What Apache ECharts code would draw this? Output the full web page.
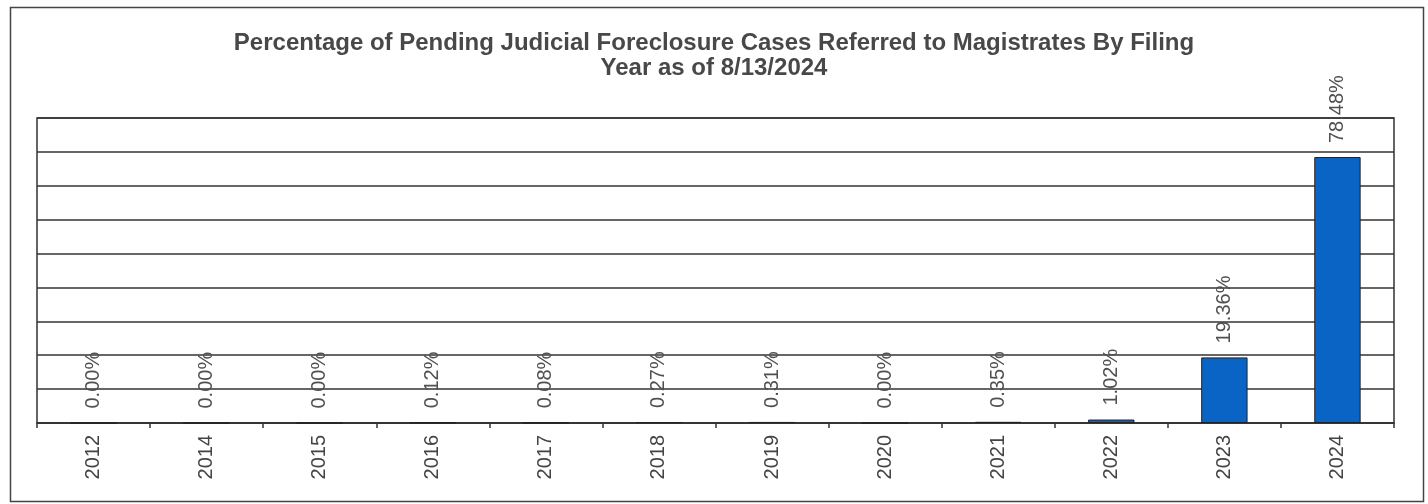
<!DOCTYPE html>
<html>
<head>
<meta charset="utf-8">
<script src="https://cdn.jsdelivr.net/npm/echarts@6/dist/echarts.min.js"></script>
<style>
  html, body { margin: 0; padding: 0; background: #fff; }
  #chart { width: 1428px; height: 504px; }
</style>
</head>
<body>
<div id="chart"></div>
<script>
// filing years on the x axis
var years = ['2012', '2014', '2015', '2016', '2017', '2018', '2019', '2020', '2021', '2022', '2023', '2024'];
// percent of pending cases referred to magistrates
var percents = [0.00, 0.00, 0.00, 0.12, 0.08, 0.27, 0.31, 0.00, 0.35, 1.02, 19.36, 78.48];

var titleText = 'Percentage of Pending Judicial Foreclosure Cases Referred to Magistrates By Filing\nYear as of 8/13/2024';

var chart = echarts.init(document.getElementById('chart'));

var option = {
  backgroundColor: '#fff',
  animation: false,
  textStyle: { fontFamily: 'Liberation Sans, Arial, sans-serif' },
  title: {
    text: titleText,
    left: 'center',
    top: 26,
    textStyle: {
      fontSize: 24,
      fontWeight: 'bold',
      color: '#484848',
      lineHeight: 25,
      align: 'center'
    }
  },
  graphic: [{
    type: 'rect',
    left: 8,
    top: 5,
    shape: { width: 1413, height: 494 },
    style: { fill: 'none', stroke: '#444', lineWidth: 1.5 },
    silent: true
  }],
  grid: {
    left: 37,
    right: 34,
    top: 118,
    bottom: 81,
    show: true,
    borderColor: '#333',
    borderWidth: 1.5
  },
  xAxis: {
    type: 'category',
    data: years,
    axisLine: { lineStyle: { color: '#333', width: 1.5 } },
    axisTick: { show: true, length: 5, lineStyle: { color: '#333', width: 1.5 } },
    axisLabel: {
      rotate: 90,
      margin: 12,
      fontSize: 20,
      color: '#444'
    }
  },
  yAxis: {
    type: 'value',
    min: 0,
    max: 90,
    interval: 10,
    axisLabel: { show: false },
    axisLine: { show: false },
    axisTick: { show: false },
    splitLine: { lineStyle: { color: '#333', width: 1.5 } }
  },
  series: [{
    type: 'bar',
    data: percents,
    barWidth: '41%',
    itemStyle: {
      color: '#0a64c6',
      borderColor: '#222',
      borderWidth: 1
    },
    label: {
      show: true,
      position: 'top',
      rotate: 90,
      align: 'left',
      verticalAlign: 'middle',
      distance: 14,
      fontSize: 20,
      color: '#505050',
      formatter: function (p) { return p.value.toFixed(2) + '%'; }
    }
  }]
};

chart.setOption(option);
</script>
</body>
</html>
